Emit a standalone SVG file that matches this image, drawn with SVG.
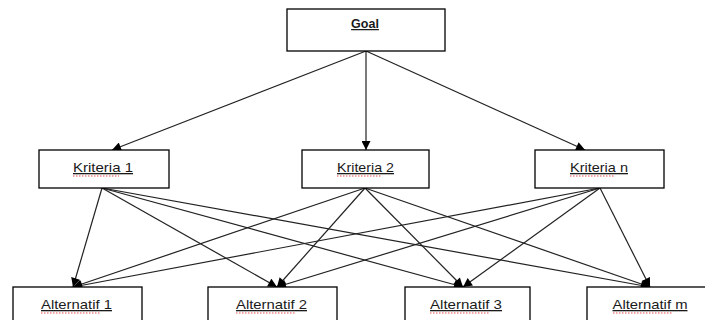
<svg xmlns="http://www.w3.org/2000/svg" width="705" height="320" viewBox="0 0 705 320">
<defs>
<marker id="ah" viewBox="0 0 10 10" refX="10" refY="5" markerWidth="10" markerHeight="9" markerUnits="userSpaceOnUse" orient="auto">
<path d="M0,0 L10,5 L0,10 z" fill="#000"/>
</marker>
<style>
.box{fill:#fff;stroke:#000;stroke-width:1.3}
.lbl{font-family:"Liberation Sans",Arial,sans-serif;font-size:13px;fill:#1a1a1a;text-anchor:middle;text-decoration:underline}
.goal{font-weight:bold;font-size:12.5px}
.con line{stroke:#222;stroke-width:1.2;marker-end:url(#ah)}
.sq{fill:none;stroke:#e02020;stroke-width:0.8;stroke-dasharray:1.5 1.5}
</style>
</defs>
<rect width="705" height="320" fill="#fff"/>
<g class="con">
<line x1="366" y1="51" x2="112" y2="150"/>
<line x1="366" y1="51" x2="366" y2="150"/>
<line x1="366" y1="51" x2="585" y2="150"/>
<line x1="102" y1="188" x2="73" y2="287"/>
<line x1="102" y1="188" x2="277" y2="287"/>
<line x1="102" y1="188" x2="463" y2="287"/>
<line x1="102" y1="188" x2="650" y2="287"/>
<line x1="365" y1="188" x2="73" y2="287"/>
<line x1="365" y1="188" x2="277" y2="287"/>
<line x1="365" y1="188" x2="463" y2="287"/>
<line x1="365" y1="188" x2="650" y2="287"/>
<line x1="600" y1="188" x2="73" y2="287"/>
<line x1="600" y1="188" x2="277" y2="287"/>
<line x1="600" y1="188" x2="463" y2="287"/>
<line x1="600" y1="188" x2="650" y2="287"/>
</g>
<g id="goal">
<rect class="box" x="287" y="9" width="158" height="42"/>
<text class="lbl goal" x="365" y="28">Goal</text>
</g>
<g id="kriteria1">
<rect class="box" x="39" y="150" width="130" height="38"/>
<text class="lbl" x="103" y="172" textLength="60" lengthAdjust="spacingAndGlyphs">Kriteria 1</text>
<path class="sq" d="M73,176 L119,176"/>
</g>
<g id="kriteria2">
<rect class="box" x="302" y="150" width="127" height="38"/>
<text class="lbl" x="365.5" y="172" textLength="57" lengthAdjust="spacingAndGlyphs">Kriteria 2</text>
<path class="sq" d="M337,176 L381,176"/>
</g>
<g id="kriterian">
<rect class="box" x="535" y="150" width="129" height="38"/>
<text class="lbl" x="599" y="172" textLength="58" lengthAdjust="spacingAndGlyphs">Kriteria n</text>
<path class="sq" d="M570,176 L615,176"/>
</g>
<g id="alternatif1">
<rect class="box" x="13" y="287" width="129" height="40"/>
<text class="lbl" x="76.5" y="309" textLength="71" lengthAdjust="spacingAndGlyphs">Alternatif 1</text>
<path class="sq" d="M41,313 L100,313"/>
</g>
<g id="alternatif2">
<rect class="box" x="208" y="287" width="129" height="40"/>
<text class="lbl" x="271.5" y="309" textLength="71" lengthAdjust="spacingAndGlyphs">Alternatif 2</text>
<path class="sq" d="M236,313 L295,313"/>
</g>
<g id="alternatif3">
<rect class="box" x="405" y="287" width="125" height="40"/>
<text class="lbl" x="466" y="309" textLength="72" lengthAdjust="spacingAndGlyphs">Alternatif 3</text>
<path class="sq" d="M430,313 L490,313"/>
</g>
<g id="alternatifm">
<rect class="box" x="587" y="287" width="130" height="40"/>
<text class="lbl" x="650" y="309" textLength="75" lengthAdjust="spacingAndGlyphs">Alternatif m</text>
<path class="sq" d="M613,313 L672,313"/>
</g>
</svg>
